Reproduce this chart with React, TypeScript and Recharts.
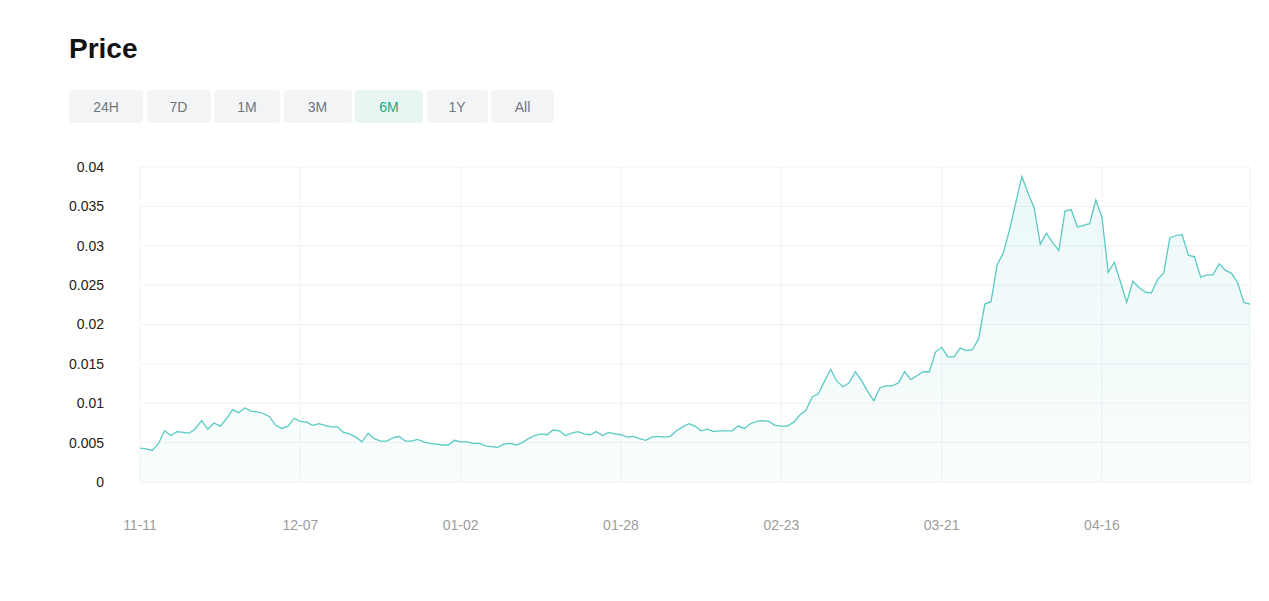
import { AreaChart, Area, XAxis, YAxis, CartesianGrid } from "recharts";

// daily prices, 11-11 -> 05-10 (181 days)
const prices = [
  0.0043, 0.0042, 0.004, 0.0049, 0.0065, 0.0059, 0.0064, 0.0063, 0.0062, 0.0068,
  0.0078, 0.0067, 0.0075, 0.0071, 0.008, 0.0092, 0.0088, 0.0094, 0.009, 0.0089,
  0.0087, 0.0083, 0.0072, 0.0068, 0.0071, 0.0081, 0.0077, 0.0076, 0.0072, 0.0074,
  0.0072, 0.007, 0.007, 0.0063, 0.0061, 0.0057, 0.0051, 0.0062, 0.0055, 0.0052,
  0.0052, 0.0056, 0.0058, 0.0052, 0.0052, 0.0054, 0.0051, 0.0049, 0.0048, 0.0047,
  0.0047, 0.0053, 0.0051, 0.0051, 0.0049, 0.0049, 0.0046, 0.0045, 0.0044, 0.0048,
  0.0049, 0.0047, 0.005, 0.0055, 0.0059, 0.0061, 0.006, 0.0066, 0.0065, 0.0059,
  0.0062, 0.0064, 0.0061, 0.006, 0.0064, 0.0059, 0.0063, 0.0061, 0.006, 0.0057,
  0.0058, 0.0055, 0.0053, 0.0057, 0.0058, 0.0057, 0.0058, 0.0065, 0.007, 0.0074,
  0.0071, 0.0065, 0.0067, 0.0064, 0.0065, 0.0065, 0.0065, 0.0071, 0.0068, 0.0074,
  0.0077, 0.0078, 0.0077, 0.0072, 0.0071, 0.0071, 0.0076, 0.0085, 0.0091, 0.0108,
  0.0112, 0.0128, 0.0143, 0.0128, 0.0121, 0.0126, 0.014, 0.0129, 0.0115, 0.0103,
  0.012, 0.0122, 0.0122, 0.0126, 0.014, 0.013, 0.0135, 0.014, 0.014, 0.0165,
  0.0171, 0.0159, 0.0159, 0.017, 0.0167, 0.0168, 0.0182, 0.0226, 0.0229, 0.0276,
  0.0291, 0.032, 0.0354, 0.0388, 0.0367, 0.0348, 0.0302, 0.0316, 0.0304, 0.0294,
  0.0344, 0.0346, 0.0324, 0.0326, 0.0328, 0.0358, 0.0336, 0.0266, 0.0279, 0.0254,
  0.0228, 0.0255, 0.0247, 0.0241, 0.024, 0.0257, 0.0265, 0.031, 0.0313, 0.0314,
  0.0288, 0.0286, 0.026, 0.0263, 0.0263, 0.0277, 0.0269, 0.0265, 0.0253, 0.0228,
  0.0226,
];

const xTicks = ["11-11", "12-07", "01-02", "01-28", "02-23", "03-21", "04-16"];
const yTicks = [0, 0.005, 0.01, 0.015, 0.02, 0.025, 0.03, 0.035, 0.04];
const ranges = ["24H", "7D", "1M", "3M", "6M", "1Y", "All"];
const rangeWidths = [74, 64, 66, 68, 68, 61, 63];

const dates = prices.map((_, i) => {
  const d = new Date(Date.UTC(2022, 10, 11 + i));
  const mm = String(d.getUTCMonth() + 1).padStart(2, "0");
  const dd = String(d.getUTCDate()).padStart(2, "0");
  return `${mm}-${dd}`;
});

const data = prices.map((p, i) => ({ date: dates[i], price: p }));

const font = '"Liberation Sans", Arial, sans-serif';

export default function App() {
  return (
    <div
      style={{
        position: "absolute",
        left: 0,
        top: 0,
        width: 1269,
        height: 601,
        background: "#fff",
        fontFamily: font,
      }}
    >
      <div
        style={{
          position: "absolute",
          left: 69,
          top: 35,
          fontSize: 28,
          lineHeight: "28px",
          fontWeight: 700,
          color: "#121212",
        }}
      >
        Price
      </div>
      <div style={{ position: "absolute", left: 69, top: 90, display: "flex", gap: 3.5 }}>
        {ranges.map((r, i) => {
          const active = r === "6M";
          return (
            <div
              key={r}
              style={{
                width: rangeWidths[i],
                height: 33,
                borderRadius: 4,
                background: active ? "#e8f6f3" : "#f3f4f5",
                color: active ? "#1aa98a" : "#6f7682",
                fontSize: 14,
                display: "flex",
                alignItems: "center",
                justifyContent: "center",
              }}
            >
              {r}
            </div>
          );
        })}
      </div>
      <div style={{ position: "absolute", left: 0, top: 140 }}>
        <AreaChart
          width={1269}
          height={420}
          data={data}
          margin={{ top: 27, right: 19, bottom: 18, left: 60 }}
        >
          <defs>
            <linearGradient id="priceFill" x1="0" y1="0" x2="0" y2="1">
              <stop offset="0%" stopColor="#5bcac4" stopOpacity={0.2} />
              <stop offset="100%" stopColor="#5bcac4" stopOpacity={0.06} />
            </linearGradient>
          </defs>
          <CartesianGrid stroke="#f1f2f3" />
          <XAxis
            dataKey="date"
            ticks={xTicks}
            interval={0}
            axisLine={false}
            tickLine={false}
            tickSize={0}
            tickMargin={38}
            height={60}
            tick={{ fill: "#9c9c9c", fontSize: 14, fontFamily: font }}
          />
          <YAxis
            domain={[0, 0.04]}
            ticks={yTicks}
            width={80}
            axisLine={false}
            tickLine={false}
            tickSize={0}
            tickMargin={36}
            tick={{ fill: "#222", fontSize: 14, fontFamily: font }}
          />
          <Area
            type="linear"
            dataKey="price"
            stroke="#5bcac4"
            strokeWidth={1.3}
            fill="url(#priceFill)"
            dot={false}
            activeDot={false}
            isAnimationActive={false}
          />
        </AreaChart>
      </div>
    </div>
  );
}
